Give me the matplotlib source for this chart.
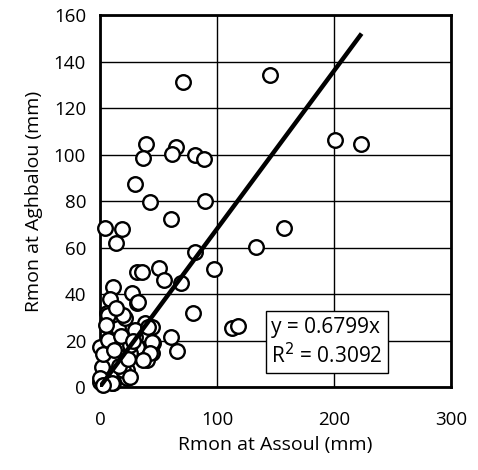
import matplotlib
matplotlib.use("Agg")
import matplotlib.pyplot as plt
import numpy as np

plt.rcParams['font.family'] = ['Open Sans', 'DejaVu Sans']

assoul = [71.2, 145.3, 200.6, 223.0, 39.0, 36.5, 65.0, 61.3, 81.0, 88.9, 29.6,
          42.7, 90.0, 60.4, 4.3, 18.5, 13.7, 157.3, 133.3, 80.9, 97.7, 31.9, 35.9,
          50.7, 55.0, 69.2, 11.4, 27.1, 8.5, 31.3, 79.8, 113.0, 118.2, 60.4, 66.1,
          5.7, 5.7, 15.7, 21.4, 38.5, 44.2, 6.6, 0.0, 29.9, 45.6, 44.2, 39.9, 31.3,
          25.6, 11.4, 2.8, 22.8, 22.8, 0.0, 11.4, 8.5, 32.8, 7.1, 19.9, 5.1, 29.9,
          41.3, 7.1, 25.6, 44.2, 42.7, 37.0, 17.1, 10.0, 1.5, 20.0, 25.6, 0.0, 10.0,
          2.8, 14.0, 18.0, 3.0, 16.0, 24.0, 28.0, 12.0]
aghbalou = [131.0, 134.3, 106.2, 104.5, 104.5, 98.6, 103.4, 100.2, 99.6, 97.9, 87.3,
            79.7, 80.1, 72.3, 68.2, 68.0, 62.1, 68.2, 60.4, 58.2, 50.6, 49.3, 49.6,
            51.3, 46.0, 44.9, 43.1, 40.3, 37.7, 36.3, 31.7, 25.5, 26.4, 21.6, 15.6,
            31.8, 26.7, 25.5, 29.5, 27.4, 25.9, 20.2, 17.3, 21.6, 18.8, 14.5, 11.6, 17.3,
            14.5, 10.9, 8.0, 7.3, 3.7, 2.3, 1.6, 5.0, 36.7, 31.0, 31.0, 26.7, 24.5,
            25.9, 20.2, 18.0, 19.5, 14.5, 11.6, 13.0, 11.6, 8.7, 7.3, 4.4, 3.7, 1.6,
            0.9, 34.0, 22.0, 14.0, 9.0, 12.0, 20.0, 16.0]

slope = 0.6799
r2 = 0.3092
line_x = [0, 223.6]

x_ticks = [0, 100, 200, 300]
y_ticks = [0, 20, 40, 60, 80, 100, 120, 140, 160]

fig = plt.figure(figsize=(4.78, 4.70), dpi=100)
ax = fig.add_axes([0.209, 0.1766, 0.7345, 0.7914])

ax.set_xlim(0, 300)
ax.set_ylim(0, 160)
ax.set_xticks(x_ticks)
ax.set_yticks(y_ticks)
ax.grid(True, color='black', linewidth=1.0)
ax.set_axisbelow(True)

ax.plot(assoul, aghbalou, linestyle='none', marker='o', markersize=10.5,
        markerfacecolor='white', markeredgecolor='black', markeredgewidth=1.7,
        zorder=3, clip_on=False)
lx = np.array(line_x)
ax.plot(lx, slope * lx, color='black', linewidth=3.2, zorder=4, solid_capstyle='butt')

for s in ax.spines.values():
    s.set_linewidth(2.0)
    s.set_color('black')

ax.tick_params(axis='both', direction='in', length=0, labelsize=13.5)
ax.tick_params(axis='y', pad=10)
ax.tick_params(axis='x', pad=17)

ax.set_xlabel('Rmon at Assoul (mm)', fontsize=14, labelpad=5)
ax.set_ylabel('Rmon at Aghbalou (mm)', fontsize=14, labelpad=8)

ax.text(146, 19.3, 'y = 0.6799x\nR$^2$ = 0.3092', fontsize=15, va='center', ha='left',
        zorder=6, linespacing=1.25,
        bbox=dict(boxstyle='square,pad=0.25', facecolor='white', edgecolor='black', linewidth=1.0))

fig.savefig('out.png', dpi=100)
